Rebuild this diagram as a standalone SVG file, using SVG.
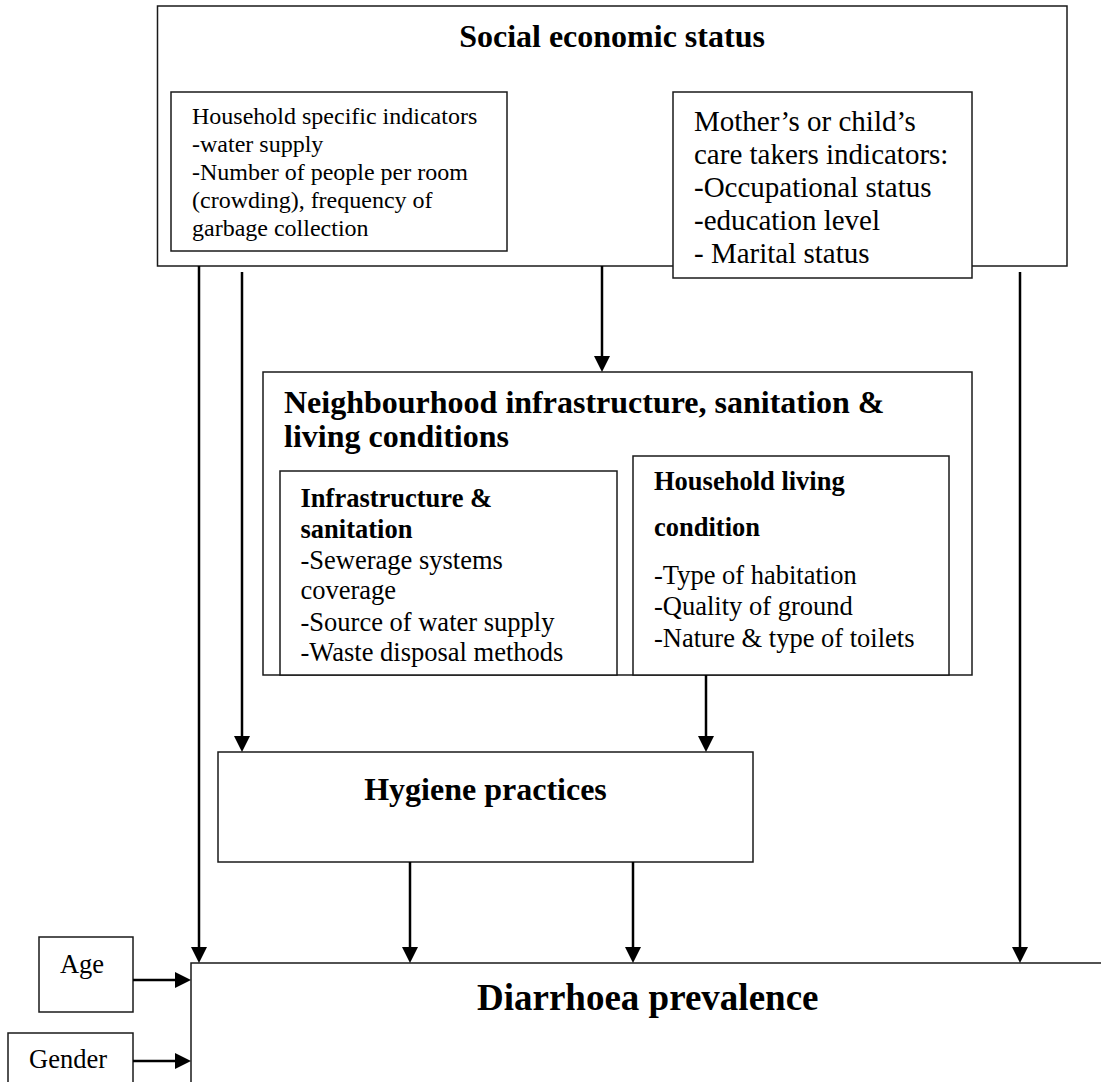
<svg xmlns="http://www.w3.org/2000/svg" width="1101" height="1082" viewBox="0 0 1101 1082">
<style>
.box{fill:#fff;stroke:#1a1a1a;stroke-width:1.5}
.t{font-family:"Liberation Serif","Times New Roman",serif;fill:#000}
.b{font-weight:bold}
.con{stroke:#000;stroke-width:2.5;fill:none;marker-end:url(#ah)}
</style>
<defs>
<marker id="ah" markerUnits="userSpaceOnUse" markerWidth="16" markerHeight="16" refX="8" refY="8" orient="auto">
<path d="M0,0 L16,8 L0,16 z" fill="#000"/>
</marker>
</defs>
<rect width="1101" height="1082" fill="#fff"/>

<g id="ses">
<rect class="box" x="157.5" y="6" width="909.5" height="260"/>
<text class="t b" x="612" y="46.5" font-size="32" text-anchor="middle">Social economic status</text>
</g>

<g id="household-indicators">
<rect class="box" x="171" y="92" width="336" height="159"/>
<text class="t" font-size="24">
<tspan x="192" y="124">Household specific indicators</tspan>
<tspan x="192" y="152">-water supply</tspan>
<tspan x="192" y="180">-Number of people per room</tspan>
<tspan x="192" y="208">(crowding), frequency of</tspan>
<tspan x="192" y="235.5">garbage collection</tspan>
</text>
</g>

<g id="mother-indicators">
<rect class="box" x="673" y="92" width="299" height="186"/>
<text class="t" font-size="29">
<tspan x="694" y="131">Mother’s or child’s</tspan>
<tspan x="694" y="164">care takers indicators:</tspan>
<tspan x="694" y="196.5">-Occupational status</tspan>
<tspan x="694" y="229.5">-education level</tspan>
<tspan x="694" y="262.5">- Marital status</tspan>
</text>
</g>

<g id="neighbourhood">
<rect class="box" x="263" y="372" width="709" height="303"/>
<text class="t b" font-size="32">
<tspan x="284" y="412.5">Neighbourhood infrastructure, sanitation &amp;</tspan>
<tspan x="284" y="446.5">living conditions</tspan>
</text>
</g>

<g id="infrastructure">
<rect class="box" x="280" y="471" width="337" height="204"/>
<text class="t" font-size="26.5">
<tspan class="b" x="300.5" y="507">Infrastructure &amp;</tspan>
<tspan class="b" x="300.5" y="537.5">sanitation</tspan>
<tspan x="300.5" y="568.5">-Sewerage systems</tspan>
<tspan x="300.5" y="599">coverage</tspan>
<tspan x="300.5" y="630.5">-Source of water supply</tspan>
<tspan x="300.5" y="661">-Waste disposal methods</tspan>
</text>
</g>

<g id="household-living">
<rect class="box" x="633" y="456" width="316" height="219"/>
<text class="t" font-size="26.5">
<tspan class="b" x="654" y="490">Household living</tspan>
<tspan class="b" x="654" y="536">condition</tspan>
<tspan x="654" y="584">-Type of habitation</tspan>
<tspan x="654" y="615">-Quality of ground</tspan>
<tspan x="654" y="646.5">-Nature &amp; type of toilets</tspan>
</text>
</g>

<g id="hygiene">
<rect class="box" x="218" y="752" width="535" height="110"/>
<text class="t b" x="485.5" y="800" font-size="32" text-anchor="middle">Hygiene practices</text>
</g>

<g id="diarrhoea">
<rect class="box" x="191" y="963" width="930" height="140"/>
<text class="t b" x="477" y="1010" font-size="37">Diarrhoea prevalence</text>
</g>

<g id="age">
<rect class="box" x="39" y="937" width="94" height="75"/>
<text class="t" x="82" y="972.5" font-size="26.5" text-anchor="middle">Age</text>
</g>

<g id="gender">
<rect class="box" x="8" y="1033" width="125" height="70"/>
<text class="t" x="68" y="1067.5" font-size="26.5" text-anchor="middle">Gender</text>
</g>

<g id="connectors">
<path class="con" d="M199,266 V955"/>
<path class="con" d="M242,272 V744"/>
<path class="con" d="M602,266 V364"/>
<path class="con" d="M1020,272 V955"/>
<path class="con" d="M706,675 V744"/>
<path class="con" d="M410,862 V955"/>
<path class="con" d="M633,862 V955"/>
<path class="con" d="M133,980 H183"/>
<path class="con" d="M133,1061 H183"/>
</g>
</svg>
